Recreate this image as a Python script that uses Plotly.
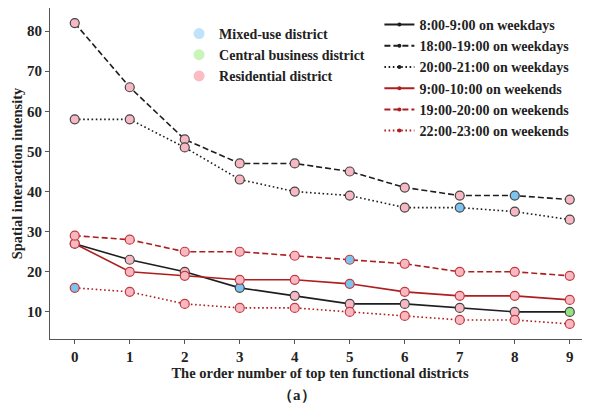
import plotly.graph_objects as go

order = [0, 1, 2, 3, 4, 5, 6, 7, 8, 9]

series_names = [
    "8:00-9:00 on weekdays",
    "18:00-19:00 on weekdays",
    "20:00-21:00 on weekdays",
    "9:00-10:00 on weekends",
    "19:00-20:00 on weekends",
    "22:00-23:00 on weekends",
]

wd_8_9 = [27, 23, 20, 16, 14, 12, 12, 11, 10, 10]
wd_18_19 = [82, 66, 53, 47, 47, 45, 41, 39, 39, 38]
wd_20_21 = [58, 58, 51, 43, 40, 39, 36, 36, 35, 33]
we_9_10 = [27, 20, 19, 18, 18, 17, 15, 14, 14, 13]
we_19_20 = [29, 28, 25, 25, 24, 23, 22, 20, 20, 19]
we_22_23 = [16, 15, 12, 11, 11, 10, 9, 8, 8, 7]

# district type of each point: M = mixed-use, C = central business, R = residential
type_wd_8_9 = ["R", "R", "R", "M", "R", "R", "R", "R", "R", "C"]
type_wd_18_19 = ["R", "R", "R", "R", "R", "R", "R", "R", "M", "R"]
type_wd_20_21 = ["R", "R", "R", "R", "R", "R", "R", "M", "R", "R"]
type_we_9_10 = ["R", "R", "R", "R", "R", "M", "R", "R", "R", "R"]
type_we_19_20 = ["R", "R", "R", "R", "R", "M", "R", "R", "R", "R"]
type_we_22_23 = ["M", "R", "R", "R", "R", "R", "R", "R", "R", "R"]

district_names = ["Mixed-use district", "Central business district", "Residential district"]
district_keys = ["M", "C", "R"]

values = [wd_8_9, wd_18_19, wd_20_21, we_9_10, we_19_20, we_22_23]
types = [type_wd_8_9, type_wd_18_19, type_wd_20_21, type_we_9_10, type_we_19_20, type_we_22_23]

fill_colors = {"M": "#7cc4f0", "C": "#93e283", "R": "#f7b8c4"}
legend_colors = {"M": "#bfe3fb", "C": "#c8f6b8", "R": "#fbbcc2"}
line_colors = ["#1e1e1e", "#1e1e1e", "#1e1e1e", "#ad1f1f", "#ad1f1f", "#ad1f1f"]
edge_colors = ["#444444", "#444444", "#444444", "#c23a3a", "#c23a3a", "#c23a3a"]
dashes = ["solid", "6px,3px", "1.6px,2.6px", "solid", "6px,3px", "1.6px,2.6px"]

FONT = "Liberation Serif, Times New Roman, serif"
TXT = 14.5
LEG = 14

# the page places the figure 8px in from the window's top-left corner
W, H = 582, 397
ML, MT, MB = 42, 0, 66
PW, PH = W - ML, H - MT - MB

fig = go.Figure()

for name, vals, typ, lc, ec, ds in zip(series_names, values, types, line_colors, edge_colors, dashes):
    fig.add_trace(go.Scatter(
        x=order, y=vals, mode="lines+markers", showlegend=False,
        line=dict(color=lc, width=1.6, dash=ds),
        marker=dict(size=9, color=[fill_colors[t] for t in typ],
                    line=dict(color=ec, width=1.2)),
    ))

# district legend
for dn, dk in zip(district_names, district_keys):
    fig.add_trace(go.Scatter(
        x=[None], y=[None], mode="markers", name=dn, legend="legend",
        marker=dict(size=11, color=legend_colors[dk], line=dict(width=0)),
    ))

# line-style legend
for name, lc, ds in zip(series_names, line_colors, dashes):
    fig.add_trace(go.Scatter(
        x=[None], y=[None], mode="lines+markers", name=name, legend="legend2",
        line=dict(color=lc, width=2, dash=ds),
        marker=dict(size=4, color=lc),
    ))

fig.update_layout(
    width=W, height=H,
    margin=dict(l=ML, r=0, t=MT, b=MB, autoexpand=False),
    paper_bgcolor="white", plot_bgcolor="white",
    font=dict(family=FONT, size=TXT, color="#222", weight="bold"),
    legend=dict(x=0.239, y=0.970, xanchor="left", yanchor="top", bgcolor="rgba(0,0,0,0)",
                font=dict(family=FONT, size=LEG, color="#222", weight="bold")),
    legend2=dict(x=0.61, y=0.997, xanchor="left", yanchor="top", bgcolor="rgba(0,0,0,0)",
                 font=dict(family=FONT, size=LEG, color="#222", weight="bold")),
    annotations=[dict(text="（a）", xref="paper", x=(289 - ML) / PW,
                      yref="paper", y=-(387 - (MT + PH)) / PH, showarrow=False,
                      xanchor="center", yanchor="middle",
                      font=dict(family=FONT, size=15, color="#222", weight="bold"))],
)

fig.update_xaxes(
    range=[-0.45, 9.368], tickmode="array", tickvals=order, ticktext=[str(v) for v in order],
    showgrid=False, zeroline=False, showline=True, linecolor="#555", linewidth=1,
    mirror=True, ticks="outside", ticklen=4, tickcolor="#555", automargin=False,
    tickfont=dict(family=FONT, size=15, color="#222", weight="bold"),
    title=dict(text="The order number of top ten functional districts", standoff=3,
               font=dict(family=FONT, size=TXT, color="#222", weight="bold")),
)
fig.update_yaxes(
    range=[3.25, 85.75], tickvals=[10, 20, 30, 40, 50, 60, 70, 80],
    showgrid=False, zeroline=False, showline=True, linecolor="#555", linewidth=1,
    ticks="outside", ticklen=4, tickcolor="#555", automargin=False,
    tickfont=dict(family=FONT, size=15, color="#222", weight="bold"),
    title=dict(text="Spatial interaction intensity", standoff=0,
               font=dict(family=FONT, size=TXT, color="#222", weight="bold")),
)

fig.write_html("out.html")
